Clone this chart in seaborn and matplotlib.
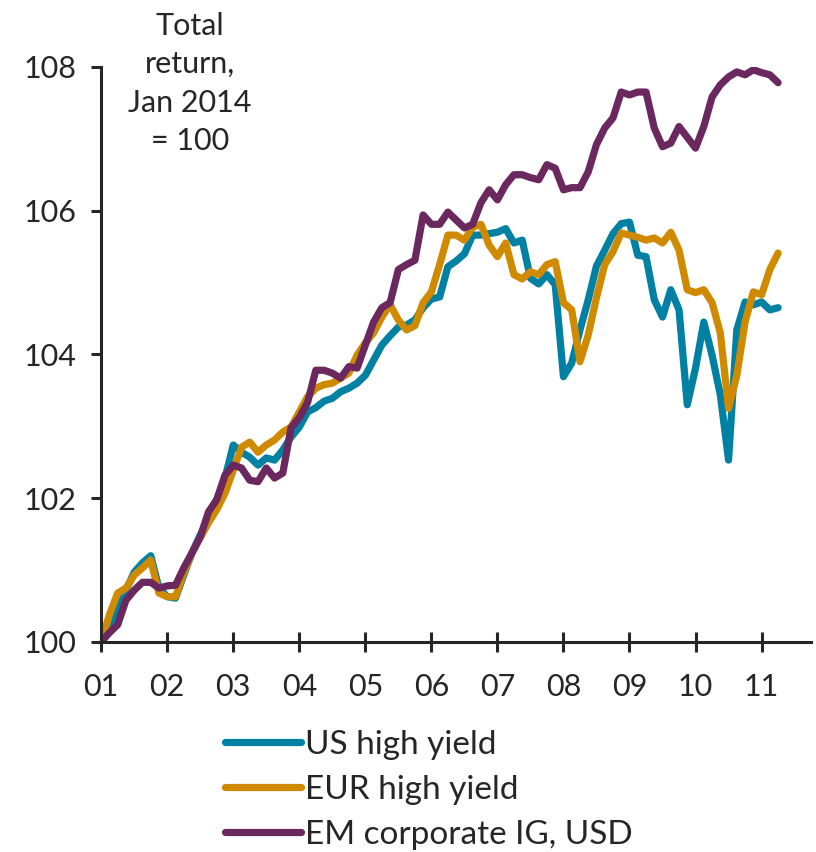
import matplotlib
matplotlib.use("Agg")
import matplotlib.pyplot as plt
import numpy as np
import pandas as pd
import seaborn as sns

# x positions in months (1 = Jan), one reading every 1/8 month
months = [1 + i / 8 for i in range(83)]

us_high_yield = [
    100.00, 100.19, 100.51, 100.72, 100.97, 101.10, 101.20, 100.75, 100.63, 100.61,
    100.93, 101.24, 101.49, 101.70, 101.98, 102.28, 102.74, 102.64, 102.57, 102.46,
    102.56, 102.53, 102.67, 102.85, 102.99, 103.20, 103.26, 103.35, 103.39, 103.48,
    103.53, 103.60, 103.71, 103.92, 104.13, 104.26, 104.38, 104.41, 104.48, 104.65,
    104.77, 104.80, 105.22, 105.30, 105.40, 105.66, 105.66, 105.68, 105.70, 105.75,
    105.55, 105.59, 105.06, 104.98, 105.11, 104.97, 103.69, 103.88, 104.34, 104.76,
    105.23, 105.45, 105.68, 105.82, 105.84, 105.38, 105.36, 104.76, 104.52, 104.90,
    104.62, 103.30, 103.81, 104.45, 103.99, 103.44, 102.53, 104.34, 104.73, 104.69,
    104.73, 104.62, 104.65,
]

eur_high_yield = [
    100.00, 100.38, 100.68, 100.75, 100.93, 101.03, 101.14, 100.68, 100.63, 100.63,
    100.96, 101.24, 101.45, 101.66, 101.84, 102.07, 102.39, 102.71, 102.78, 102.64,
    102.74, 102.81, 102.92, 102.99, 103.20, 103.41, 103.53, 103.58, 103.60, 103.67,
    103.74, 103.99, 104.16, 104.30, 104.52, 104.69, 104.48, 104.34, 104.40, 104.72,
    104.87, 105.25, 105.66, 105.66, 105.59, 105.77, 105.81, 105.52, 105.36, 105.55,
    105.11, 105.05, 105.15, 105.11, 105.25, 105.29, 104.72, 104.62, 103.90, 104.27,
    104.79, 105.25, 105.43, 105.69, 105.66, 105.63, 105.59, 105.62, 105.55, 105.70,
    105.45, 104.90, 104.86, 104.90, 104.72, 104.30, 103.25, 103.71, 104.45, 104.87,
    104.83, 105.18, 105.41,
]

em_corporate_ig = [
    100.00, 100.13, 100.24, 100.58, 100.72, 100.83, 100.83, 100.75, 100.78, 100.79,
    101.03, 101.24, 101.46, 101.81, 101.98, 102.32, 102.46, 102.42, 102.25, 102.23,
    102.42, 102.28, 102.35, 102.98, 103.12, 103.33, 103.78, 103.78, 103.74, 103.67,
    103.83, 103.81, 104.13, 104.45, 104.65, 104.72, 105.18, 105.25, 105.31, 105.94,
    105.81, 105.81, 105.98, 105.87, 105.76, 105.81, 106.11, 106.29, 106.15, 106.36,
    106.50, 106.50, 106.46, 106.43, 106.64, 106.59, 106.29, 106.32, 106.32, 106.54,
    106.92, 107.15, 107.29, 107.65, 107.61, 107.65, 107.65, 107.15, 106.89, 106.94,
    107.17, 107.02, 106.87, 107.17, 107.58, 107.75, 107.86, 107.93, 107.89, 107.96,
    107.92, 107.89, 107.78,
]

series_names = ["US high yield", "EUR high yield", "EM corporate IG, USD"]
series_colors = ["#0081A4", "#D08A00", "#6A285F"]
month_ticks = list(range(1, 12))
month_labels = [f"{m:02d}" for m in month_ticks]
y_ticks = [100, 102, 104, 106, 108]


def main():
    sns.set_style("ticks")
    plt.rcParams["font.family"] = ["Lato", "DejaVu Sans"]
    plt.rcParams["axes.linewidth"] = 2.2

    df = pd.concat(
        [
            pd.DataFrame({"month": months, "value": vals, "series": name})
            for name, vals in zip(series_names, [us_high_yield, eur_high_yield, em_corporate_ig])
        ],
        ignore_index=True,
    )

    fig = plt.figure(figsize=(8.16, 8.52), dpi=100)
    ax = fig.add_axes([0.124, 0.2465, 0.87, 0.675])

    sns.lineplot(
        data=df, x="month", y="value", hue="series", hue_order=series_names,
        palette=dict(zip(series_names, series_colors)), linewidth=5.2,
        ax=ax, legend=True, sort=False,
    )

    ax.set_xlim(1, 11.75)
    ax.set_ylim(100, 108)
    ax.set_xticks(month_ticks)
    ax.set_xticklabels(month_labels)
    ax.set_yticks(y_ticks)
    ax.set_xlabel("")
    ax.set_ylabel("")
    sns.despine(ax=ax)
    ax.tick_params(axis="x", direction="inout", length=14, width=2.2, labelsize=22, pad=15)
    ax.tick_params(axis="y", direction="out", length=7, width=2.2, labelsize=22, pad=11)

    handles, labels = ax.get_legend_handles_labels()
    ax.legend(
        handles, labels, loc="upper left", bbox_to_anchor=(0.255, 0.163),
        bbox_transform=fig.transFigure, frameon=False, fontsize=24,
        handlelength=2.3, handletextpad=0.1, labelspacing=0.45, borderpad=0,
    )

    fig.text(0.233, 0.986, "Total\nreturn,\nJan 2014\n= 100", ha="center", va="top",
             fontsize=22, linespacing=1.45)

    fig.savefig("out.png", dpi=100)
    plt.close(fig)


if __name__ == "__main__":
    main()
